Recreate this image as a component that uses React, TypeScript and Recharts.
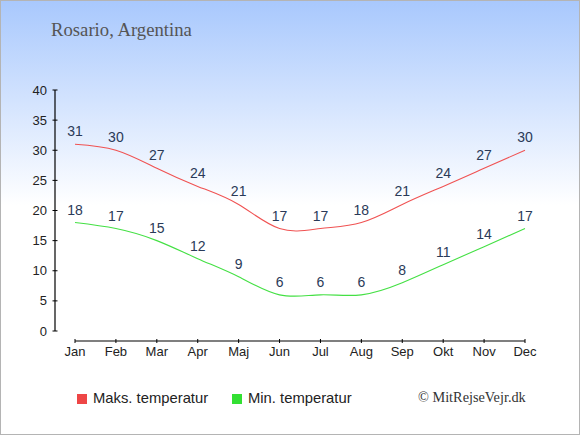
import React from 'react';
import { LineChart, Line, XAxis, YAxis, LabelList } from 'recharts';

const months = ['Jan', 'Feb', 'Mar', 'Apr', 'Maj', 'Jun', 'Jul', 'Aug', 'Sep', 'Okt', 'Nov', 'Dec'];
const maxTemp = [31, 30, 27, 24, 21, 17, 17, 18, 21, 24, 27, 30];
const minTemp = [18, 17, 15, 12, 9, 6, 6, 6, 8, 11, 14, 17];
const yTicks = [0, 5, 10, 15, 20, 25, 30, 35, 40];

const data = months.map((m, i) => ({ month: m, max: maxTemp[i], min: minTemp[i] }));

const RED = '#f05252';
const GREEN = '#44e044';
const LABEL = '#2a3a58';
const AXIS_FONT = { fontFamily: '"Liberation Sans", Arial, sans-serif', fontSize: 13, fill: '#222' };

export default function App() {
  return (
    <div
      style={{
        position: 'absolute',
        left: 0,
        top: 0,
        width: 580,
        height: 435,
        background: 'linear-gradient(to bottom, #a8c8fd 0px, #ffffff 205px, #ffffff 435px)',
        overflow: 'hidden',
      }}
    >
      <div
        style={{
          position: 'absolute',
          left: 51,
          top: 18,
          fontFamily: '"Liberation Serif", "Times New Roman", serif',
          fontSize: 18.7,
          color: '#555',
          whiteSpace: 'nowrap',
          lineHeight: '24px',
        }}
      >
        Rosario, Argentina
      </div>

      <div style={{ position: 'absolute', left: 0, top: 0 }}>
        <LineChart width={580} height={435} data={data} margin={{ top: 0, right: 55, left: 75, bottom: 64 }}>
          <XAxis
            dataKey="month"
            height={30}
            tickSize={4}
            tickMargin={2}
            tick={AXIS_FONT}
            axisLine={{ stroke: '#000', strokeWidth: 1.2 }}
            tickLine={{ stroke: '#000', transform: 'translate(0,-2)' }}
            interval={0}
          />
          <YAxis hide domain={[0, 40]} />
          <Line dataKey="max" stroke="none" strokeOpacity={0} dot={false} isAnimationActive={false} />
        </LineChart>
      </div>

      <div style={{ position: 'absolute', left: 0, top: 0 }}>
        <LineChart width={580} height={435} data={data} margin={{ top: 90, right: 55, left: 15, bottom: 104 }}>
          <XAxis dataKey="month" hide height={0} padding={{ left: 20, right: 0 }} />
          <YAxis
            width={40}
            domain={[0, 40]}
            ticks={yTicks}
            interval={0}
            tickSize={5}
            tickMargin={3}
            tick={AXIS_FONT}
            axisLine={{ stroke: '#000', strokeWidth: 1.2 }}
            tickLine={{ stroke: '#000', transform: 'translate(2.5,0)' }}
          />
          <Line
            type="natural"
            dataKey="max"
            stroke={RED}
            strokeWidth={1.1}
            dot={false}
            isAnimationActive={false}
          >
            <LabelList
              dataKey="max"
              position="top"
              offset={8}
              fill={LABEL}
              style={{ fontFamily: '"Liberation Sans", Arial, sans-serif', fontSize: 14 }}
            />
          </Line>
          <Line
            type="natural"
            dataKey="min"
            stroke={GREEN}
            strokeWidth={1.1}
            dot={false}
            isAnimationActive={false}
          >
            <LabelList
              dataKey="min"
              position="top"
              offset={8}
              fill={LABEL}
              style={{ fontFamily: '"Liberation Sans", Arial, sans-serif', fontSize: 14 }}
            />
          </Line>
        </LineChart>
      </div>

      <div style={{ position: 'absolute', left: 77, top: 394, width: 10, height: 10, background: '#ee4646' }} />
      <div
        style={{
          position: 'absolute',
          left: 93,
          top: 390,
          fontFamily: '"Liberation Sans", Arial, sans-serif',
          fontSize: 14.8,
          color: '#222',
          lineHeight: '17px',
          whiteSpace: 'nowrap',
        }}
      >
        Maks. temperatur
      </div>
      <div style={{ position: 'absolute', left: 232, top: 394, width: 10, height: 10, background: '#33e033' }} />
      <div
        style={{
          position: 'absolute',
          left: 248,
          top: 390,
          fontFamily: '"Liberation Sans", Arial, sans-serif',
          fontSize: 14.8,
          color: '#222',
          lineHeight: '17px',
          whiteSpace: 'nowrap',
        }}
      >
        Min. temperatur
      </div>
      <div
        style={{
          position: 'absolute',
          left: 418,
          top: 389,
          fontFamily: '"Liberation Serif", "Times New Roman", serif',
          fontSize: 14.3,
          color: '#333',
          lineHeight: '17px',
          whiteSpace: 'nowrap',
        }}
      >
        © MitRejseVejr.dk
      </div>

      <div
        style={{
          position: 'absolute',
          left: 0,
          top: 0,
          width: 580,
          height: 435,
          boxSizing: 'border-box',
          border: '1px solid #b4b4b4',
          pointerEvents: 'none',
        }}
      />
    </div>
  );
}
